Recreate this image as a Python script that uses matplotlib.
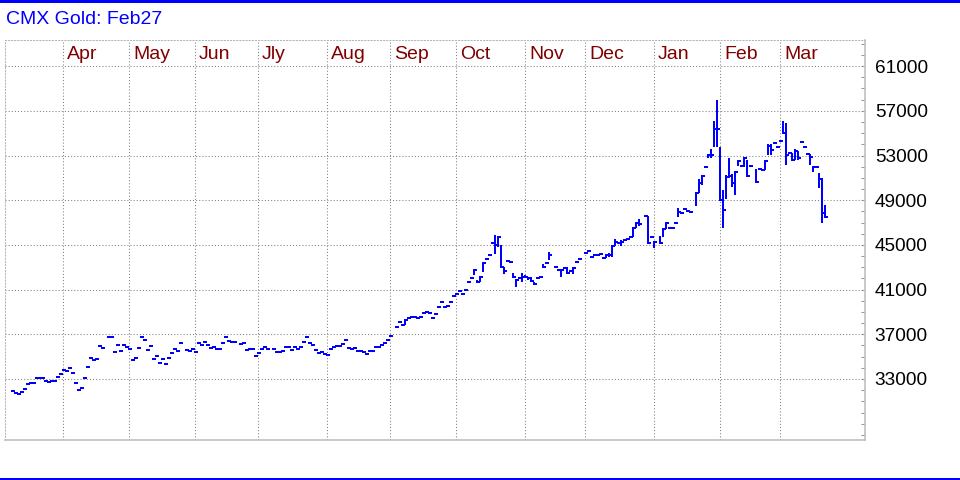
import matplotlib.pyplot as plt
from matplotlib.patches import Rectangle
from matplotlib.transforms import blended_transform_factory

plt.rcParams['font.family'] = ['Liberation Sans', 'DejaVu Sans']

title = 'CMX Gold: Feb27'
months = ['Apr', 'May', 'Jun', 'Jly', 'Aug', 'Sep', 'Oct', 'Nov', 'Dec', 'Jan', 'Feb', 'Mar']
month_start = [17, 39, 61, 82, 105, 126, 148, 171, 191, 214, 236, 256]

# daily close, one slot per trading day (None = no bar)
close = [
    31900, 31720, 31630, 31810, 32080, 32530, 32620, 32620, 33060, 33060,
    33060, 32790, 32700, 32790, 32790, 33150, 33420, 33780, 33690, 33960,
    33510, 32620, 31990, 32170, 33060, 34050, 34850, 34670, 34760, 35930,
    35750, None, 36730, 36730, 35420, 36020, 35510, 36020, 35840, 35660,
    34670, 34850, 35750, 36730, 36460, 35570, 35930, 34760, 35030, 34410,
    34760, 34320, 34850, 35300, 35660, 35480, 36200, None, 35570, 35480,
    35660, 35390, 36200, 36020, 36280, 36020, 35750, 35840, 35660, 35660,
    36200, 36730, 36370, 36280, 36280, None, 36110, 36200, 35570, 35660,
    35660, 35030, 35300, 35660, 35840, 35660, None, 35660, 35390, 35390,
    35480, 35840, 35840, 35570, 35840, 35660, 35840, 36280, 36730, 36200,
    36020, 35570, 35300, 35440, 35260, 35120, 35660, 35860, 35950, 35950,
    36130, 36460, 35750, 35660, 35750, 35480, 35480, 35390, 35210, 35480,
    35480, 35860, 35860, 36020, 36200, 36490, 36820, None, 37630, 38070,
    37810, 38280, 38460, 38520, 38520, 38430, 38520, 38880, 38970, 38880,
    38430, 38790, 39420, 39860, 39420, 39510, 39860, 40400, 40580, 40850,
    40580, 40940, 41650, 42010, 42760, 41650, 42130, 43350, 43740, 44100,
    45140, 45000, 45680, 43050, 42670, 43530, 43440, 42150, 41860, 42010,
    42150, 42150, 42000, 41770, 41500, 42010, 42100, 43050, 43380, 44100,
    None, 43000, 42760, 42760, 42910, 42510, 42670, 42910, 43440, 43740,
    None, 44300, 44460, 43890, 44100, 44100, 44190, 43800, 44100, 44100,
    44930, 45290, 45140, 45290, 45410, 45530, 45680, 46490, 46930, 46850,
    None, 47620, 45200, 45740, 45290, None, 45140, 46430, 46930, 46490,
    46490, 46930, 47970, 47880, 48190, 48040, 47920, None, 49620, 50510,
    51170, 51940, 53050, 53050, 55380, 55380, 49020, 48130, 51110, 51170,
    50570, 51490, 52530, 52060, 52750, 51170, 52090, None, 50660, 51770,
    51710, 52530, 53870, 53500, 54150, 53740, 54300, 55000, 53050, 53250,
    52600, 53410, 52810, 54240, 53790, 53140, 52840, 51950, 51950, 50870,
    47880, 47470,
]

# days whose high and low differ
range_idx = [131, 154, 155, 156, 157, 161, 162, 163, 164, 167, 168, 170, 171,
             172, 173, 174, 177, 179, 183, 185, 187, 197, 198, 199, 200, 201,
             203, 207, 208, 209, 212, 214, 216, 217, 218, 222, 228, 229, 230,
             232, 233, 234, 235, 236, 237, 238, 239, 240, 241, 242, 244, 245,
             248, 251, 252, 253, 257, 258, 260, 261, 262, 266, 267, 269, 270,
             271]
range_high = [38280, 42760, 41860, 42130, 43350, 45890, 45680, 45000, 43050,
              42460, 41860, 42510, 42310, 42150, 42100, 41710, 43290, 44390,
              42820, 43050, 42910, 43950, 44100, 44250, 44930, 45530, 45440,
              46490, 46990, 47320, 47620, 45290, 45800, 46430, 46930, 48280,
              49620, 50870, 51260, 53140, 53560, 56120, 57970, 53790, 49920,
              51260, 52750, 51350, 51550, 52530, 52750, 52600, 51770, 52530,
              53990, 53990, 56120, 55880, 53200, 53560, 53410, 53140, 52060,
              51410, 50960, 48570]
range_low = [37810, 42310, 41650, 41650, 42600, 44190, 44790, 43050, 42360,
             42150, 41210, 41710, 42010, 41860, 41770, 41500, 43050, 43650,
             42100, 42510, 42400, 43710, 43800, 43890, 43890, 44930, 44930,
             45740, 46490, 46700, 45200, 44700, 45140, 45680, 46430, 47470,
             48480, 49620, 50360, 52750, 52750, 53790, 53790, 49020, 46490,
             49080, 50950, 50210, 49470, 52060, 51940, 51110, 50660, 51710,
             53050, 53050, 55000, 52150, 52600, 52600, 52600, 52150, 51550,
             50070, 46930, 47470]

bar_color = '#0000ff'
grid_kw = dict(color='#808080', linewidth=0.75, linestyle=(0, (1, 2)), zorder=1)

fig = plt.figure(figsize=(9.6, 4.8), dpi=100)
ax = fig.add_axes([5 / 960, 40 / 480, 860 / 960, 400 / 480])

# OHLC-style bars: high-low stick plus close tick to the right
days = [i for i, c in enumerate(close) if c is not None]
closes = [close[i] for i in days]
ax.vlines(range_idx, range_low, range_high, color=bar_color, linewidth=1.4,
          antialiased=False, zorder=3)
ax.hlines(closes, [d - 0.2 for d in days], [d + 0.85 for d in days],
          color=bar_color, linewidth=1.4, antialiased=False, zorder=3)

ax.set_xlim(-7 / 3, 853 / 3)
ax.set_ylim(27540, 63340)

major = list(range(33000, 61001, 4000))
for m in month_start:
    ax.axvline(m, **grid_kw)
for v in major:
    ax.axhline(v, **grid_kw)

ax.set_xticks([])
ax.set_yticks(major)
ax.set_yticks(range(28000, 63001, 1000), minor=True)
ax.set_yticklabels([str(v) for v in major])
ax.yaxis.tick_right()
ax.tick_params(axis='y', which='both', direction='in', length=3, width=0.8,
               color='#9a9a9a', labelsize=13.7, pad=7)

trans = blended_transform_factory(ax.transData, ax.transAxes)
for name, m in zip(months, month_start):
    ax.text(m + 1.3, 0.964, name, transform=trans, color='#800000',
            fontsize=14, va='center', ha='left')

for side in ['top', 'left']:
    ax.spines[side].set_color('#b4b4b4')
    ax.spines[side].set_linewidth(0.75)
    ax.spines[side].set_linestyle((0, (1, 2)))
for side in ['right', 'bottom']:
    ax.spines[side].set_color('#c0c0c0')
    ax.spines[side].set_linewidth(1.2)

fig.text(6 / 960, 1 - 20 / 480, title, color='#0000ff', fontsize=14,
         va='center', ha='left')
fig.add_artist(Rectangle((0, 1 - 2.7 / 480), 1, 2.7 / 480, transform=fig.transFigure,
                         color='#0000ff', lw=0))
fig.add_artist(Rectangle((0, 0), 1, 2.5 / 480, transform=fig.transFigure,
                         color='#0000ff', lw=0))

fig.savefig('out.png', dpi=100)
